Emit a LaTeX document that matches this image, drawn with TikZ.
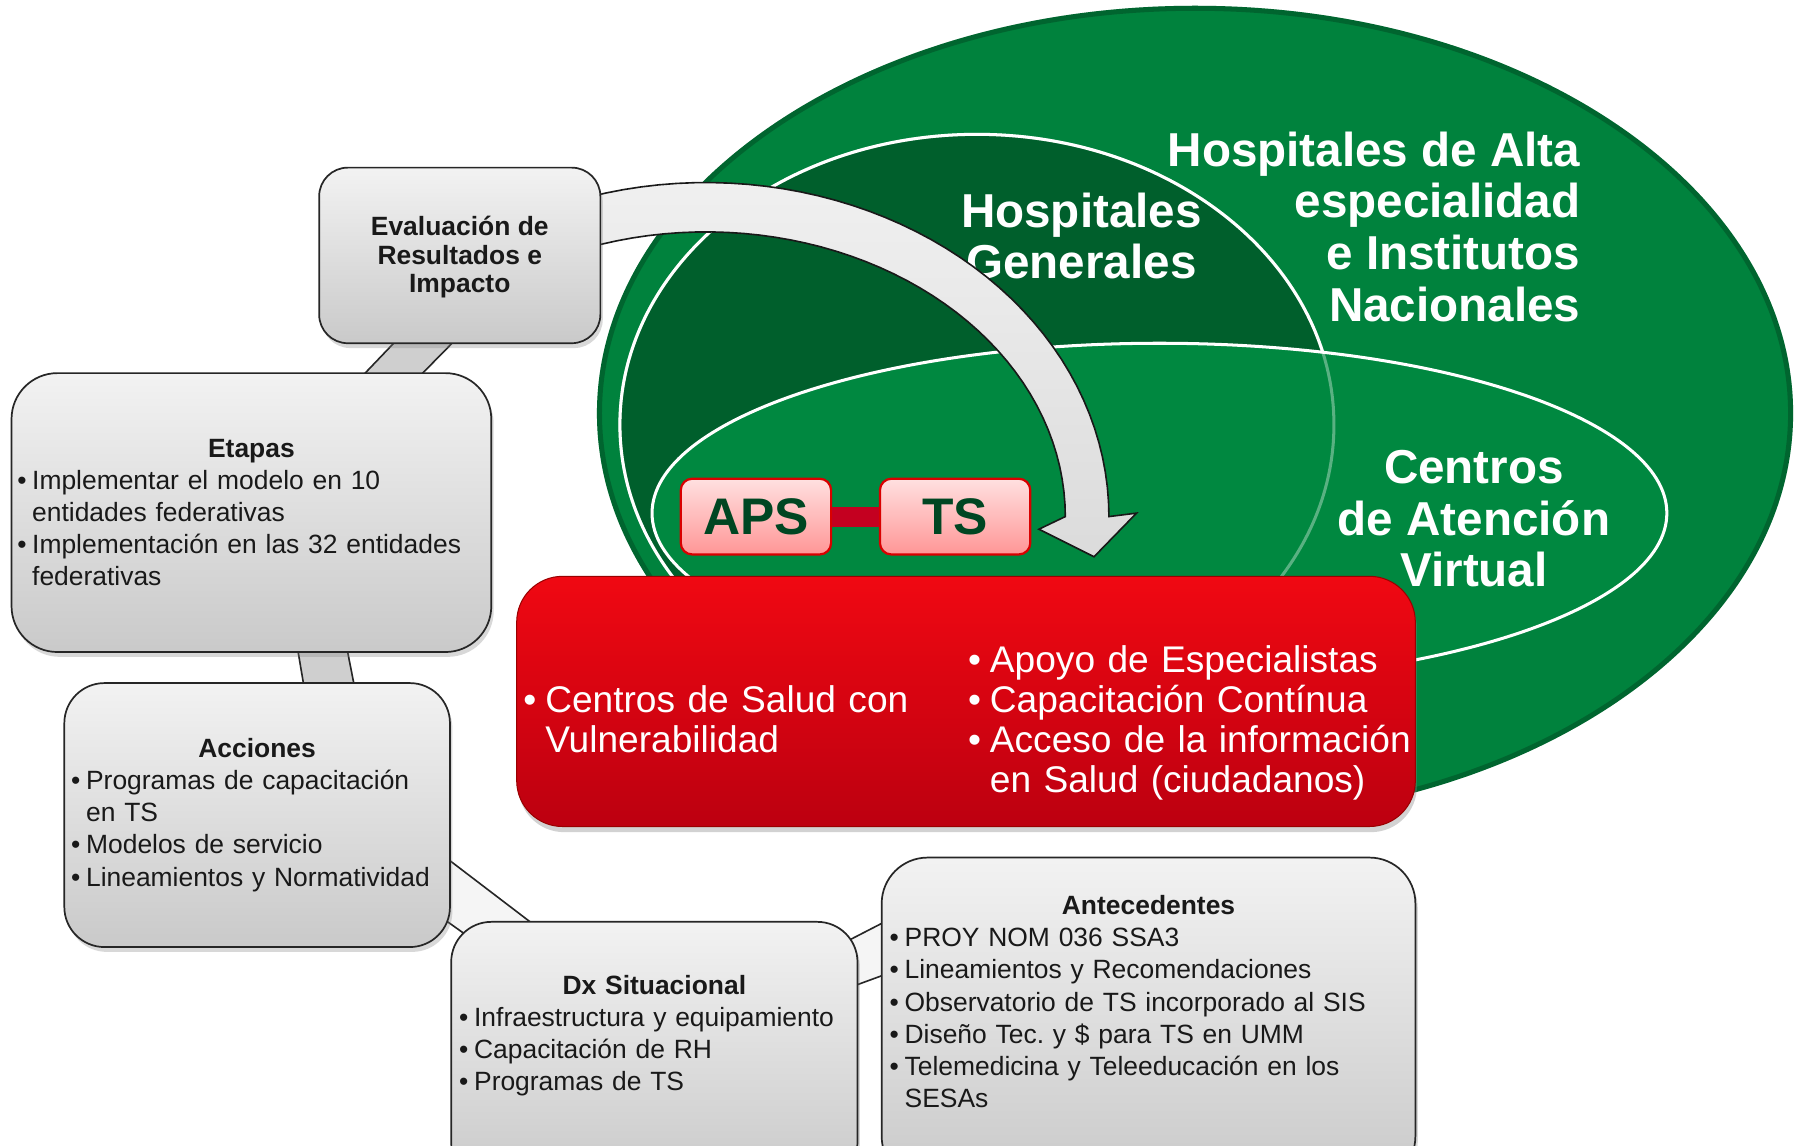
\documentclass[tikz,border=0pt]{standalone}
\usepackage{fontspec}
\setmainfont{Liberation Sans}
\frenchspacing
\usetikzlibrary{calc,shadows}
\pgfdeclarelayer{base}
\pgfdeclarelayer{bands}
\pgfsetlayers{base,bands,main}
\definecolor{gOut}{RGB}{0,130,61}
\definecolor{gDark}{RGB}{0,95,44}
\definecolor{gMid}{RGB}{0,136,64}
\definecolor{gTxt}{RGB}{0,70,34}
\definecolor{redTop}{RGB}{240,8,18}
\definecolor{redBot}{RGB}{188,0,16}
\definecolor{linkRed}{RGB}{196,0,32}
\definecolor{pinkTop}{RGB}{255,224,224}
\definecolor{pinkBot}{RGB}{255,150,150}
\newcommand\itm[2]{\par\noindent\hangindent=#1\hangafter=1\makebox[#1][l]{\textbullet}#2\par}
\tikzset{
  grayBox/.style={draw=black!85, line width=0.85pt, rounded corners=#1, top color=gray!10, bottom color=gray!42, inner sep=0pt,
    drop shadow={opacity=0.3, shadow xshift=1.2pt, shadow yshift=-2.4pt}},
  grayBox/.default=0.7cm,
  redBox/.style={draw=red!60!black, line width=0.5pt, rounded corners=0.8cm, top color=redTop, bottom color=redBot, inner sep=0pt,
    drop shadow={opacity=0.35, shadow xshift=0.8pt, shadow yshift=-2.8pt}},
  tsBox/.style={draw=red!85!black, line width=1.1pt, rounded corners=0.2cm, top color=pinkTop, bottom color=pinkBot, text=gTxt,
    font=\fontsize{25.5}{27}\selectfont\bfseries, minimum width=2.62cm, minimum height=1.32cm, inner sep=0pt},
  apsLink/.style={linkRed, line width=10pt},
  band/.style ={draw=black!85, line width=0.8pt, fill=gray!38},
  bandL/.style={draw=black!85, line width=0.8pt, fill=gray!8},
  bigArrow/.style={draw=black!90, line width=0.8pt, top color=gray!12, bottom color=gray!28},
  ring/.style={draw=white, line width=1.5pt},
  rim/.style={draw=black, line width=5pt, opacity=0.22},
  bigLbl/.style={text=white, font=\fontsize{23.6}{25.6}\selectfont\bfseries, inner sep=0pt},
  grayTxt/.style={text=black!90, font=\fontsize{13.1}{15.9}\selectfont, align=left, inner sep=0pt},
  redTxt/.style={text=white, font=\fontsize{18.4}{19.9}\selectfont, align=left, inner sep=0pt},
}
\begin{document}
\begin{tikzpicture}[x=0.02cm, y=-0.02cm]
  \useasboundingbox (0,0) rectangle (1568,998);
  \begin{pgfonlayer}{base}
    \fill[white] (0,0) rectangle (1568,998);
  \end{pgfonlayer}
  % niveles de atencion
  \fill[gOut] (1041,360) ellipse [x radius=521, y radius=355];
  \begin{scope}
    \clip (1041,360) ellipse [x radius=521, y radius=355];
    \draw[rim] (1041,360) ellipse [x radius=521, y radius=355];
  \end{scope}
  \filldraw[fill=gDark, ring] (851,370) ellipse [x radius=311, y radius=253];
  \filldraw[fill=gMid, ring] (1010,447) ellipse [x radius=442, y radius=148];
  \draw[ring, opacity=0.35] (851,370) ellipse [x radius=311, y radius=253];
  \node[bigLbl, align=right, anchor=east] (hAlta) at (1377,197.5) {Hospitales de Alta\\especialidad\\e Institutos\\Nacionales};
  \node[bigLbl, align=center] (hGen) at (942,205.5) {Hospitales\\Generales};
  \node[bigLbl, align=center] (cav) at (1284,452) {Centros\\de Atención\\Virtual};
  % flecha de evaluacion
  \draw[bigArrow] plot[domain=112:0, samples=45] ({615+351*cos(\x)},{450-291*sin(\x)}) -- (990,447) -- (953,485) -- (905,461)
    -- plot[domain=0:112, samples=45] ({615+313*cos(\x)},{450-248*sin(\x)}) -- cycle;
  % cajas
  \node[grayBox=0.5cm, minimum width=4.9cm,  minimum height=3.06cm] (eval)     at (400.5,222.5) {};
  \node[grayBox=0.8cm, minimum width=8.36cm, minimum height=4.86cm] (etapas)   at (219,446.5) {};
  \node[grayBox=0.7cm, minimum width=6.72cm, minimum height=4.6cm]  (acciones) at (224,710) {};
  \node[grayBox=0.7cm, minimum width=7.08cm, minimum height=4.54cm] (dx)       at (570,916.5) {};
  \node[grayBox=0.8cm, minimum width=9.3cm,  minimum height=5.66cm] (antec)    at (1000.5,888.5) {};
  \node[redBox, minimum width=15.66cm, minimum height=4.36cm] (red) at (841.5,611) {};
  \node[tsBox] (aps) at (658.5,450) {APS};
  \node[tsBox] (ts)  at (832,450) {TS};
  \draw[apsLink] (aps.east) -- (ts.west);
  % uniones del ciclo
  \begin{pgfonlayer}{bands}
    \draw[band] ($(eval.south)+(-53.5,-5)$) -- ($(eval.south)+(-2.5,-5)$) -- ($(etapas.north)+(145,5)$) -- ($(etapas.north)+(95,5)$) -- cycle;
    \draw[band] ($(etapas.south)+(40,-5)$) -- ($(etapas.south)+(83,-5)$) -- ($(acciones.north)+(85,5)$) -- ($(acciones.north)+(41,5)$) -- cycle;
    \draw[bandL] ($(acciones.east)+(-7,35)$) -- ($(dx.north)+(-100,7)$) -- ($(dx.north)+(-160,15)$) -- ($(acciones.east)+(-7,90)$) -- cycle;
    \draw[bandL] ($(dx.east)+(-12,-95.5)$) -- ($(antec.west)+(17,-92.5)$) -- ($(antec.west)+(17,-44.5)$) -- ($(dx.east)+(-7,-56.5)$) -- cycle;
  \end{pgfonlayer}
  % textos
  \node[grayTxt, align=center, font=\fontsize{13.1}{14.2}\selectfont\bfseries] (evalT) at ($(eval.center)+(0,1.5)$) {Evaluación de\\Resultados e\\Impacto};
  \node[grayTxt, text width=8.16cm] (etapasT) at (etapas.center) {{\centering\textbf{Etapas}\par}%
    \itm{0.26cm}{Implementar el modelo en 10\newline entidades federativas}%
    \itm{0.26cm}{Implementación en las 32 entidades\newline federativas}};
  \node[grayTxt, text width=6.48cm] (accT) at (acciones.center) {{\centering\textbf{Acciones}\par}%
    \itm{0.26cm}{Programas de capacitación\newline en TS}%
    \itm{0.26cm}{Modelos de servicio}%
    \itm{0.26cm}{Lineamientos y Normatividad}};
  \node[grayTxt, text width=6.8cm] (dxT) at ($(dx.center)+(0,-14)$) {{\centering\textbf{Dx Situacional}\par}%
    \itm{0.26cm}{Infraestructura y equipamiento}%
    \itm{0.26cm}{Capacitación de RH}%
    \itm{0.26cm}{Programas de TS}};
  \node[grayTxt, text width=9.02cm] (antT) at ($(antec.center)+(0,-16)$) {{\centering\textbf{Antecedentes}\par}%
    \itm{0.26cm}{PROY NOM 036 SSA3}%
    \itm{0.26cm}{Lineamientos y Recomendaciones}%
    \itm{0.26cm}{Observatorio de TS incorporado al SIS}%
    \itm{0.26cm}{Diseño Tec. y \$ para TS en UMM}%
    \itm{0.26cm}{Telemedicina y Teleeducación en los\newline SESAs}};
  \node[redTxt, text width=6.8cm, anchor=west] (redL) at ($(red.west)+(6,10)$) {\itm{0.38cm}{Centros de Salud con\newline Vulnerabilidad}};
  \node[redTxt, text width=7.8cm, anchor=west] (redR) at ($(red.center)+(1.5,13)$) {%
    \itm{0.38cm}{Apoyo de Especialistas}%
    \itm{0.38cm}{Capacitación Contínua}%
    \itm{0.38cm}{Acceso de la información\newline en Salud (ciudadanos)}};
\end{tikzpicture}
\end{document}
